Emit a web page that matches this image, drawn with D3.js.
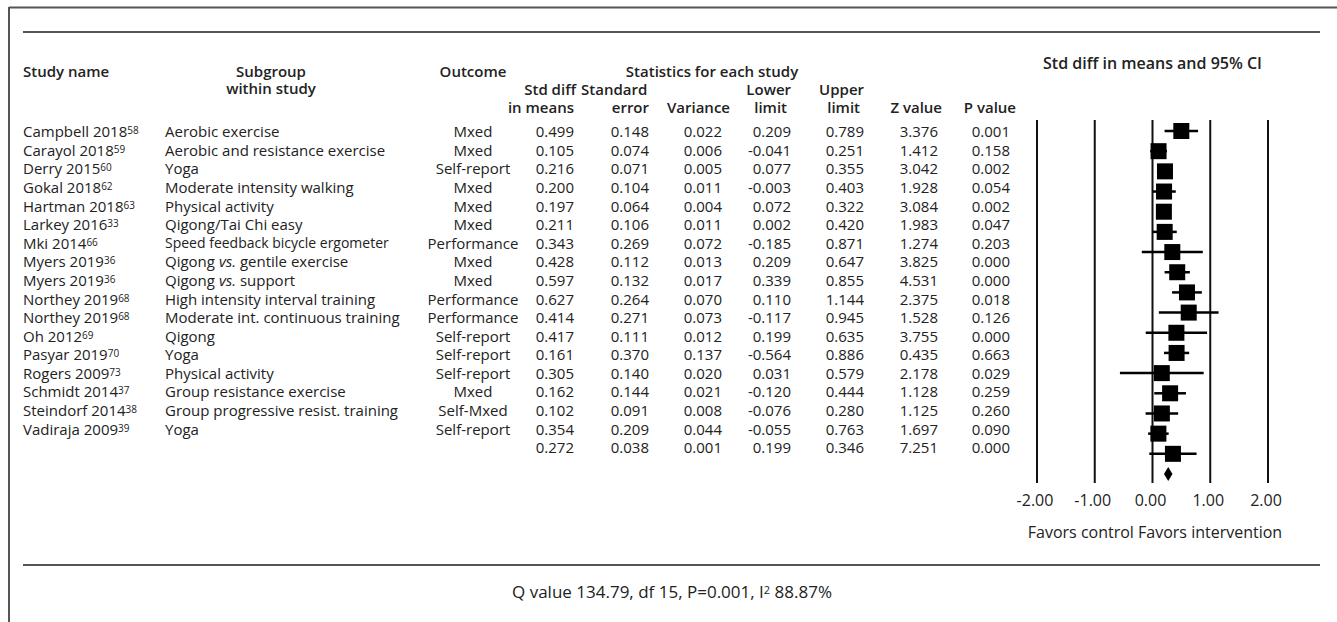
<!DOCTYPE html>
<html>
<head>
<meta charset="utf-8">
<script src="https://cdn.jsdelivr.net/npm/d3@7"></script>
<style>
  body { margin: 0; background: #fff; }
  text { font-family: "Open Sans", sans-serif; fill: #222; }
</style>
</head>
<body>
<script>
// Forest plot - table on the left, CI plot on the right
const studyNames = ["Campbell 2018", "Carayol 2018", "Derry 2015", "Gokal 2018", "Hartman 2018", "Larkey 2016",
  "Mki 2014", "Myers 2019", "Myers 2019", "Northey 2019", "Northey 2019", "Oh 2012", "Pasyar 2019",
  "Rogers 2009", "Schmidt 2014", "Steindorf 2014", "Vadiraja 2009"];
const refs = ["58", "59", "60", "62", "63", "33", "66", "36", "36", "68", "68", "69", "70", "73", "37", "38", "39"];
const subgroups = ["Aerobic exercise", "Aerobic and resistance exercise", "Yoga", "Moderate intensity walking",
  "Physical activity", "Qigong/Tai Chi easy", "Speed feedback bicycle ergometer", "Qigong vs. gentile exercise",
  "Qigong vs. support", "High intensity interval training", "Moderate int. continuous training", "Qigong", "Yoga",
  "Physical activity", "Group resistance exercise", "Group progressive resist. training", "Yoga"];
const outcomes = ["Mxed", "Mxed", "Self-report", "Mxed", "Mxed", "Mxed", "Performance", "Mxed", "Mxed",
  "Performance", "Performance", "Self-report", "Self-report", "Self-report", "Mxed", "Self-Mxed", "Self-report"];
const stdDiff = [0.499, 0.105, 0.216, 0.200, 0.197, 0.211, 0.343, 0.428, 0.597, 0.627, 0.414, 0.417, 0.161, 0.305, 0.162, 0.102, 0.354];
const stdErr = [0.148, 0.074, 0.071, 0.104, 0.064, 0.106, 0.269, 0.112, 0.132, 0.264, 0.271, 0.111, 0.370, 0.140, 0.144, 0.091, 0.209];
const variance = [0.022, 0.006, 0.005, 0.011, 0.004, 0.011, 0.072, 0.013, 0.017, 0.070, 0.073, 0.012, 0.137, 0.020, 0.021, 0.008, 0.044];
const lower = [0.209, -0.041, 0.077, -0.003, 0.072, 0.002, -0.185, 0.209, 0.339, 0.110, -0.117, 0.199, -0.564, 0.031, -0.120, -0.076, -0.055];
const upper = [0.789, 0.251, 0.355, 0.403, 0.322, 0.420, 0.871, 0.647, 0.855, 1.144, 0.945, 0.635, 0.886, 0.579, 0.444, 0.280, 0.763];
const zValue = [3.376, 1.412, 3.042, 1.928, 3.084, 1.983, 1.274, 3.825, 4.531, 2.375, 1.528, 3.755, 0.435, 2.178, 1.128, 1.125, 1.697];
const pValue = [0.001, 0.158, 0.002, 0.054, 0.002, 0.047, 0.203, 0.000, 0.000, 0.018, 0.126, 0.000, 0.663, 0.029, 0.259, 0.260, 0.090];
// pooled row
const summary = [0.272, 0.038, 0.001, 0.199, 0.346, 7.251, 0.000];
const xTicks = [-2, -1, 0, 1, 2];
const footnote = ["Q value 134.79, df 15, P=0.001, I", "2", " 88.87%"];

const width = 1337, height = 622;
const svg = d3.select("body").append("svg").attr("width", width).attr("height", height);

const loc = d3.formatLocale({decimal: ".", thousands: ",", grouping: [3], currency: ["", ""], minus: "-"});
const f3 = loc.format(".3f"), f2 = loc.format(".2f");

// frame
svg.append("line").attr("x1", 9).attr("x2", width).attr("y1", 7.5).attr("y2", 7.5).attr("stroke", "#555").attr("stroke-width", 2);
svg.append("line").attr("x1", 9).attr("x2", 9).attr("y1", 7).attr("y2", height).attr("stroke", "#555").attr("stroke-width", 2);
svg.append("line").attr("x1", 23).attr("x2", 1320).attr("y1", 32).attr("y2", 32).attr("stroke", "#555").attr("stroke-width", 2);
svg.append("line").attr("x1", 23).attr("x2", 1320).attr("y1", 565).attr("y2", 565).attr("stroke", "#555").attr("stroke-width", 2);

// column positions (right edge of numbers)
const cols = {stdDiff: 574, stdErr: 649, variance: 722, lower: 791, upper: 864, z: 938, p: 1010};

// headers
const hdr = svg.append("g").attr("font-size", 15).attr("font-weight", 600);
const ht = (x, y, s, anchor) => hdr.append("text").attr("x", x).attr("y", y).attr("dy", "0.35em").attr("text-anchor", anchor).text(s);
ht(23, 72, "Study name", "start");
const sub = hdr.append("text").attr("y", 72).attr("dy", "0.35em").attr("text-anchor", "middle");
sub.append("tspan").attr("x", 271).text("Subgroup");
sub.append("tspan").attr("x", 271).attr("dy", 17).text("within study");
ht(473, 72, "Outcome", "middle");
ht(712, 72, "Statistics for each study", "middle");
ht(cols.stdDiff + 2, 90, "Std diff", "end");
ht(cols.stdDiff + 7, 90, "Standard", "start");
ht(cols.lower, 90, "Lower", "end");
ht(cols.upper, 90, "Upper", "end");
ht(cols.stdDiff, 108, "in means", "end");
ht(cols.stdErr, 108, "error", "end");
ht(cols.variance + 8, 108, "Variance", "end");
ht(cols.lower - 4, 108, "limit", "end");
ht(cols.upper - 4, 108, "limit", "end");
ht(cols.z + 4, 108, "Z value", "end");
ht(cols.p + 6, 108, "P value", "end");

// table rows
const yRow = d3.scaleLinear().domain([0, 17]).range([132, 448]);
const rows = svg.append("g").attr("font-size", 15);
const numCols = [[stdDiff, cols.stdDiff], [stdErr, cols.stdErr], [variance, cols.variance], [lower, cols.lower],
  [upper, cols.upper], [zValue, cols.z], [pValue, cols.p]];

studyNames.forEach((name, i) => {
  const y = yRow(i);
  const t = rows.append("text").attr("x", 23).attr("y", y).attr("dy", "0.35em");
  t.append("tspan").text(name);
  t.append("tspan").attr("font-size", 10).attr("dy", -3).text(refs[i]);

  const s = rows.append("text").attr("x", 165).attr("y", y).attr("dy", "0.35em");
  if (i === 6) s.attr("font-size", 14);
  const parts = subgroups[i].split(" vs. ");
  if (parts.length > 1) {
    s.append("tspan").text(parts[0] + " ");
    s.append("tspan").attr("font-style", "italic").text("vs.");
    s.append("tspan").text(" " + parts[1]);
  } else {
    s.text(subgroups[i]);
  }

  rows.append("text").attr("x", 473).attr("y", y).attr("dy", "0.35em").attr("text-anchor", "middle").text(outcomes[i]);
  numCols.forEach(([arr, x]) => {
    rows.append("text").attr("x", x).attr("y", y).attr("dy", "0.35em").attr("text-anchor", "end").text(f3(arr[i]));
  });
});
summary.forEach((v, j) => {
  rows.append("text").attr("x", numCols[j][1]).attr("y", yRow(17)).attr("dy", "0.35em").attr("text-anchor", "end").text(f3(v));
});

// forest plot
const x = d3.scaleLinear().domain([-2, 2]).range([1037, 1268]);
const yPlot = d3.scaleLinear().domain([0, 17]).range([131, 474]);
const plot = svg.append("g");

svg.append("text").attr("x", x(0)).attr("y", 63).attr("dy", "0.35em").attr("text-anchor", "middle")
  .attr("font-size", 16).attr("font-weight", 600).text("Std diff in means and 95% CI");

plot.selectAll(".grid").data(xTicks).join("line")
  .attr("x1", d => x(d)).attr("x2", d => x(d)).attr("y1", 120).attr("y2", 483)
  .attr("stroke", "#111").attr("stroke-width", 2);

plot.selectAll(".tick").data(xTicks).join("text")
  .attr("x", d => x(d) - 2).attr("y", 500).attr("dy", "0.35em").attr("text-anchor", "middle")
  .attr("font-size", 16).text(d => f2(d));

svg.append("text").attr("x", 1155).attr("y", 532).attr("dy", "0.35em").attr("text-anchor", "middle")
  .attr("font-size", 16).text("Favors control Favors intervention");

const box = 16;
plot.selectAll(".ci").data(stdDiff).join("line")
  .attr("x1", (d, i) => x(lower[i])).attr("x2", (d, i) => x(upper[i]))
  .attr("y1", (d, i) => yPlot(i)).attr("y2", (d, i) => yPlot(i))
  .attr("stroke", "#000").attr("stroke-width", 2.5);
plot.selectAll(".box").data(stdDiff).join("rect")
  .attr("x", d => x(d) - box / 2).attr("y", (d, i) => yPlot(i) - box / 2)
  .attr("width", box).attr("height", box).attr("fill", "#000");

const yd = yPlot(17);
plot.append("path")
  .attr("d", `M${x(summary[3])},${yd} L${x(summary[0])},${yd - 7} L${x(summary[4])},${yd} L${x(summary[0])},${yd + 7} Z`)
  .attr("fill", "#000");

// heterogeneity footnote
const fn = svg.append("text").attr("x", 672).attr("y", 592).attr("dy", "0.35em").attr("text-anchor", "middle").attr("font-size", 17);
fn.append("tspan").text(footnote[0]);
fn.append("tspan").attr("font-size", 11).attr("dy", -4).text(footnote[1]);
fn.append("tspan").attr("dy", 4).text(footnote[2]);
</script>
</body>
</html>
